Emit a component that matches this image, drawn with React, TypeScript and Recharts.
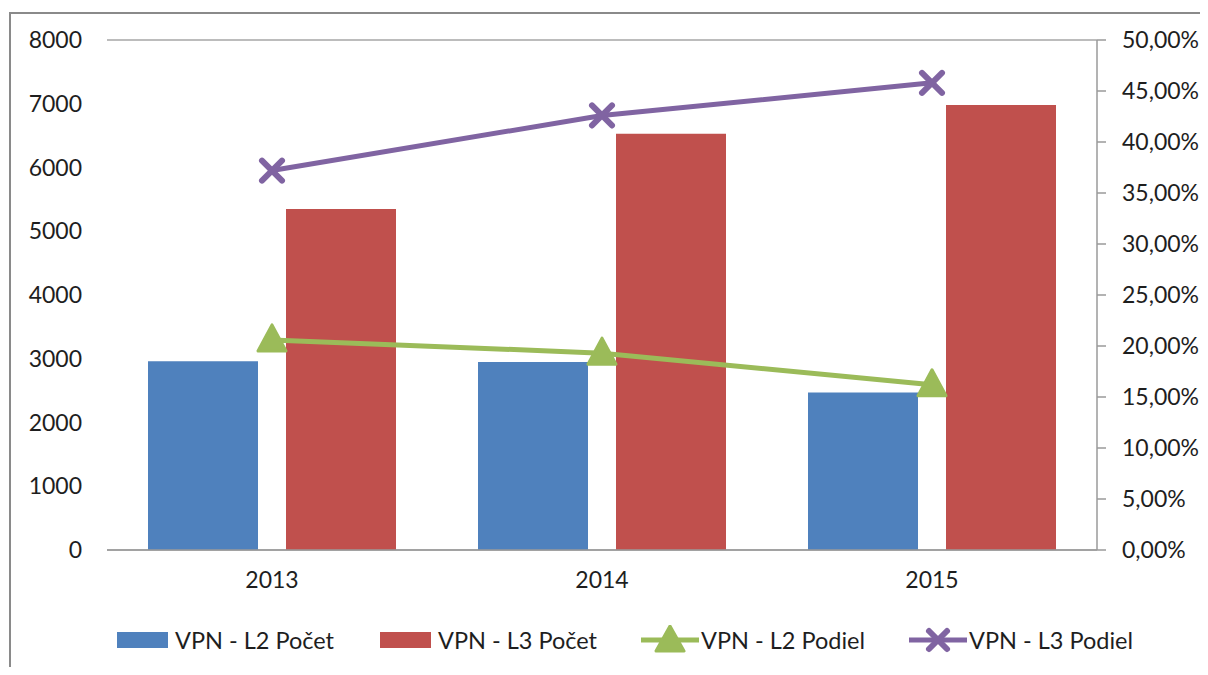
import React from "react"
import { Bar, CartesianGrid, ComposedChart, Line, XAxis, YAxis } from "recharts"

const years = ["2013", "2014", "2015"]
const l2Count = [2960, 2950, 2470]
const l3Count = [5350, 6530, 6980]
const l2Share = [0.206, 0.193, 0.162]
const l3Share = [0.372, 0.426, 0.458]
const countTicks = [0, 1000, 2000, 3000, 4000, 5000, 6000, 7000, 8000]
const shareTicks = [0, 0.05, 0.1, 0.15, 0.2, 0.25, 0.3, 0.35, 0.4, 0.45, 0.5]

const data = years.map((year, i) => ({
  year,
  l2Count: l2Count[i],
  l3Count: l3Count[i],
  l2Share: l2Share[i],
  l3Share: l3Share[i],
}))

const BLUE = "#4f81bd"
const RED = "#c0504d"
const GREEN = "#9bbb59"
const PURPLE = "#8064a2"
const FONT = "Lato, 'Open Sans', sans-serif"
const TEXT = "#1e1e1e"

const pct = (v: number) => (v * 100).toFixed(2).replace(".", ",") + "%"

function Triangle(props: any) {
  const { cx, cy } = props
  if (cx == null || cy == null) return null
  return (
    <polygon
      points={`${cx},${cy - 15} ${cx + 14},${cy + 11} ${cx - 14},${cy + 11}`}
      fill={GREEN}
      stroke={GREEN}
      strokeWidth={3}
      strokeLinejoin="round"
    />
  )
}

function Cross(props: any) {
  const { cx, cy } = props
  if (cx == null || cy == null) return null
  const r = 10
  return (
    <g stroke={PURPLE} strokeWidth={6} strokeLinecap="round">
      <line x1={cx - r} y1={cy - r} x2={cx + r} y2={cy + r} />
      <line x1={cx - r} y1={cy + r} x2={cx + r} y2={cy - r} />
    </g>
  )
}

const legendItems = [
  { label: "VPN - L2 Počet", color: BLUE, kind: "bar" },
  { label: "VPN - L3 Počet", color: RED, kind: "bar" },
  { label: "VPN - L2 Podiel", color: GREEN, kind: "tri" },
  { label: "VPN - L3 Podiel", color: PURPLE, kind: "x" },
]

function LegendIcon({ kind, color }: { kind: string; color: string }) {
  return (
    <svg width={58} height={30} style={{ display: "block" }}>
      {kind === "bar" ? (
        <rect x={2} y={7} width={51} height={16} fill={color} />
      ) : (
        <>
          <line x1={0} y1={15} x2={58} y2={15} stroke={color} strokeWidth={5} />
          {kind === "tri" ? (
            <polygon points="29,1 43,26 15,26" fill={color} stroke={color} strokeWidth={3} strokeLinejoin="round" />
          ) : (
            <g stroke={color} strokeWidth={6} strokeLinecap="round">
              <line x1={20} y1={6} x2={38} y2={24} />
              <line x1={20} y1={24} x2={38} y2={6} />
            </g>
          )}
        </>
      )}
    </svg>
  )
}

export default function App() {
  const tick = { fill: TEXT, fontSize: 23, fontFamily: FONT }
  return (
    <div
      style={{
        position: "relative",
        width: 1208,
        height: 675,
        margin: -8,
        overflow: "hidden",
        background: "#fff",
        fontFamily: FONT,
      }}
    >
      <div style={{ position: "absolute", left: 9, top: 12, width: 1199, height: 2, background: "#8a8a8a" }} />
      <div style={{ position: "absolute", left: 9, top: 12, width: 2, height: 663, background: "#8a8a8a" }} />
      <div style={{ position: "absolute", left: 0, top: 0 }}>
        <ComposedChart
          width={1208}
          height={675}
          data={data}
          margin={{ top: 40, right: 0, bottom: 75, left: 0 }}
          barGap={28}
          barCategoryGap={41}
        >
          <CartesianGrid vertical={false} stroke="#a6a6a6" strokeWidth={1.5} />
          <XAxis
            dataKey="year"
            height={50}
            tickLine={false}
            axisLine={{ stroke: "#9a9a9a", strokeWidth: 1.5 }}
            tickSize={0}
            tickMargin={22}
            tick={tick}
          />
          <YAxis
            yAxisId="count"
            width={107}
            domain={[0, 8000]}
            ticks={countTicks}
            interval={0}
            axisLine={false}
            tickLine={false}
            tickSize={0}
            tickMargin={25}
            tick={tick}
          />
          <YAxis
            yAxisId="share"
            orientation="right"
            width={111}
            domain={[0, 0.5]}
            ticks={shareTicks}
            interval={0}
            tickFormatter={pct}
            axisLine={{ stroke: "#9a9a9a", strokeWidth: 1.5 }}
            tickLine={{ stroke: "#9a9a9a", strokeWidth: 1.5 }}
            tickSize={9}
            tickMargin={16}
            tick={tick}
          />
          <Bar yAxisId="count" dataKey="l2Count" fill={BLUE} barSize={110} isAnimationActive={false} />
          <Bar yAxisId="count" dataKey="l3Count" fill={RED} barSize={110} isAnimationActive={false} />
          <Line
            yAxisId="share"
            dataKey="l2Share"
            stroke={GREEN}
            strokeWidth={5}
            dot={<Triangle />}
            activeDot={false}
            isAnimationActive={false}
          />
          <Line
            yAxisId="share"
            dataKey="l3Share"
            stroke={PURPLE}
            strokeWidth={5}
            dot={<Cross />}
            activeDot={false}
            isAnimationActive={false}
          />
        </ComposedChart>
      </div>
      <div
        style={{
          position: "absolute",
          left: 115,
          top: 625,
          display: "flex",
          alignItems: "center",
          gap: 44,
          fontSize: 23.5,
          color: TEXT,
        }}
      >
        {legendItems.map((it) => (
          <div key={it.label} style={{ display: "flex", alignItems: "center", gap: 2 }}>
            <LegendIcon kind={it.kind} color={it.color} />
            <span>{it.label}</span>
          </div>
        ))}
      </div>
    </div>
  )
}
